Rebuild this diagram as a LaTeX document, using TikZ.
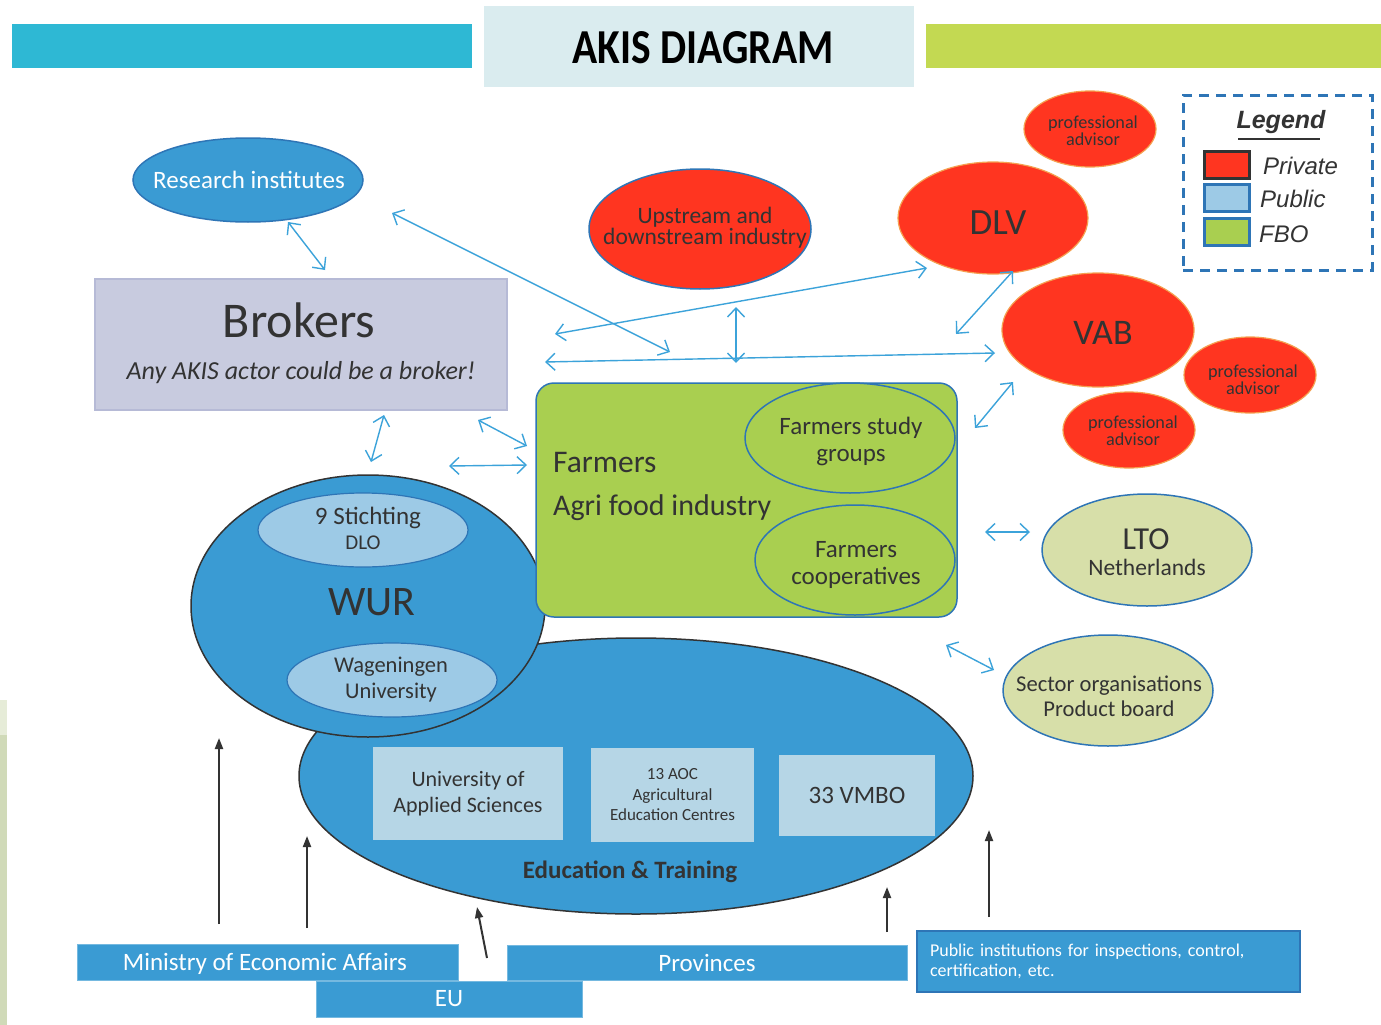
\documentclass[tikz,border=0pt]{standalone}
\usepackage{graphicx}
\usepackage{fontspec}
\setmainfont{Carlito}
\newfontfamily\arialfont{Liberation Sans}
\usetikzlibrary{shapes.geometric,arrows.meta}
\definecolor{cyanbar}{HTML}{2EB8D4}
\definecolor{greenbar}{HTML}{C3D952}
\definecolor{titlebg}{HTML}{DAECEF}
\definecolor{mblue}{HTML}{3A9BD3}
\definecolor{bblue}{HTML}{2E75B6}
\definecolor{lblue}{HTML}{9DCAE6}
\definecolor{eduboxc}{HTML}{B6D6E6}
\definecolor{pred}{HTML}{FF3520}
\definecolor{predborder}{HTML}{F5A050}
\definecolor{fgreen}{HTML}{A9CF50}
\definecolor{ltofill}{HTML}{D7DFA9}
\definecolor{brokfill}{HTML}{C8CBDF}
\definecolor{brokdraw}{HTML}{B6BAD6}
\definecolor{arrblue}{HTML}{3CA3DA}
\definecolor{darktext}{HTML}{333333}
\definecolor{stripc}{HTML}{D0DAB8}
\definecolor{stripl}{HTML}{E6ECD8}
\newcommand\fsz[2]{\fontsize{#1}{#2}\selectfont}
\begin{document}
\begin{tikzpicture}[x=1pt,y=-1pt,
  ell/.style={ellipse, inner sep=0pt},
  lbl/.style={inner sep=0pt, align=center, text=darktext},
  redell/.style={ell, fill=pred, draw=predborder, line width=1.2pt},
  padv/.style={redell, minimum width=132, minimum height=76},
  padvt/.style={lbl, font=\fsz{18.2}{14.5}},
  barrow/.style={draw=arrblue, line width=1.4pt, {Straight Barb[length=9pt,width=17pt]}-{Straight Barb[length=9pt,width=17pt]}},
  karrow/.style={draw=darktext, line width=2pt, -{Triangle[length=11pt,width=8pt]}},
  botbox/.style={fill=mblue, draw=mblue!70!white, line width=0.8pt, inner sep=0pt, text=white, font=\fsz{25}{29}},
  edubox/.style={fill=eduboxc, inner sep=0pt, align=center, text=darktext},
  legbox/.style={minimum width=45, minimum height=27, inner sep=0pt, line width=3pt},
  legtext/.style={anchor=west, inner sep=0pt, font=\arialfont\itshape\fsz{24}{28}, text=darktext}
]
\useasboundingbox (0,0) rectangle (1381,1025);
\fill[white] (0,0) rectangle (1381,1025);
% left edge strip
\fill[stripl] (0,700) rectangle (7,735);
\fill[stripc] (0,735) rectangle (7,1025);

% header
\node[fill=cyanbar, minimum width=460, minimum height=44, inner sep=0pt] (leftbar) at (242,46) {};
\node[fill=greenbar, minimum width=455, minimum height=44, inner sep=0pt] (rightbar) at (1153.5,46) {};
\node[fill=titlebg, minimum width=430, minimum height=81, inner sep=0pt] (titlebox) at (699,46.5) {};
\node[inner sep=0pt, anchor=base] (title) at (703,64) {\resizebox{261pt}{32pt}{\bfseries AKIS DIAGRAM}};

% Research institutes
\node[ell, fill=mblue, draw=bblue, line width=1.5pt, minimum width=230, minimum height=84] (research) at (248,180) {};
\node[lbl, text=white, font=\fsz{25}{28}] (researcht) at (249,180) {Research institutes};

% Brokers
\node[fill=brokfill, draw=brokdraw, line width=1.5pt, minimum width=412, minimum height=131, inner sep=0pt] (brokers) at (301,344.5) {};
\node[lbl, font=\fsz{50}{54}] (brokerstitle) at (299,320) {Brokers};
\node[lbl, font=\itshape\fsz{26}{30}] (brokerssub) at (301,373) {Any AKIS actor could be a broker!};

% Red actors
\node[redell, draw=bblue, line width=1.5pt, minimum width=222, minimum height=120] (upstream) at (700,229) {};
\node[lbl, font=\fsz{23.5}{21}] (upstreamt) at (705,228) {Upstream and\\downstream industry};
\node[padv] (padvtop) at (1090,129) {};
\node[padvt] (padvtopt) at (1093,131) {professional\\advisor};
\node[redell, minimum width=190, minimum height=112] (dlv) at (993,218) {};
\node[lbl, font=\fsz{37}{40}] (dlvt) at (998,223) {DLV};
\node[redell, minimum width=192, minimum height=114] (vab) at (1098,330) {};
\node[lbl, font=\fsz{36}{40}] (vabt) at (1103,333) {VAB};
\node[padv] (padvright) at (1250,375) {};
\node[padvt] (padvrightt) at (1253,380) {professional\\advisor};
\node[padv] (padvlow) at (1129,430) {};
\node[padvt] (padvlowt) at (1133,431) {professional\\advisor};

% Legend
\node[draw=bblue, dashed, dash pattern=on 10pt off 7pt, line width=3pt, minimum width=189, minimum height=175, inner sep=0pt] (legend) at (1277.5,182.5) {};
\node[lbl, font=\arialfont\bfseries\itshape\fsz{25}{28}] (legendtitle) at (1281,122) {Legend};
\coordinate (ulA) at (1238,139);
\coordinate (ulB) at (1320,139);
\draw[darktext, line width=2pt] (ulA) -- (ulB);
\node[legbox, fill=pred, draw=darktext] (legpriv) at (1226.5,164.5) {};
\node[legbox, fill=lblue, draw=bblue] (legpub) at (1226.5,198) {};
\node[legbox, fill=fgreen, draw=bblue] (legfbo) at (1226.5,232) {};
\node[legtext] (legprivt) at (1263,166) {Private};
\node[legtext] (legpubt) at (1260,199) {Public};
\node[legtext] (legfbot) at (1259,234) {FBO};

% Education & Training
\node[ell, fill=mblue, draw=darktext, line width=1.5pt, minimum width=674, minimum height=276] (edu) at (636,776) {};
\node[edubox, minimum width=190, minimum height=93, font=\fsz{22}{26}] (uas) at (468,793.5) {University of\\Applied Sciences};
\node[edubox, minimum width=163, minimum height=94, font=\fsz{17}{20.5}] (aoc) at (672.5,795) {13 AOC\\Agricultural\\Education Centres};
\node[edubox, minimum width=156, minimum height=81, font=\fsz{25}{28}] (vmbo) at (857,795.5) {33 VMBO};
\node[lbl, font=\bfseries\fsz{25}{28}] (edutext) at (630,872) {Education \& Training};

% WUR
\node[ell, fill=mblue, draw=darktext, line width=1.5pt, minimum width=354, minimum height=262] (wur) at (368,606) {};
\node[ell, fill=lblue, draw=bblue, line width=1.2pt, minimum width=210, minimum height=74] (dlo) at (363,530) {};
\node[lbl, font=\fsz{25}{27}] (dlot1) at (368,518) {9 Stichting};
\node[lbl, font=\fsz{21}{23}] (dlot2) at (363,543) {DLO};
\node[lbl, font=\fsz{42}{45}] (wurtext) at (372,602) {WUR};
\node[ell, fill=lblue, draw=bblue, line width=1.2pt, minimum width=210, minimum height=74] (wagu) at (392,680) {};
\node[lbl, font=\fsz{22.5}{26}] (wagut) at (391,680) {Wageningen\\University};

% Farmers
\node[fill=fgreen, draw=bblue, line width=1.5pt, rounded corners=18pt, minimum width=421, minimum height=234, inner sep=0pt] (farmers) at (746.5,500) {};
\node[lbl, anchor=west, font=\fsz{31.5}{34}] (farmerst) at (553,463) {Farmers};
\node[lbl, anchor=west, font=\fsz{30}{34}] (agrit) at (553,508) {Agri food industry};
\node[ell, draw=bblue, line width=1.5pt, minimum width=210, minimum height=110] (study) at (850,438) {};
\node[lbl, font=\fsz{25}{27}] (studyt) at (851,441) {Farmers study\\groups};
\node[ell, draw=bblue, line width=1.5pt, minimum width=200, minimum height=110] (coop) at (855,560) {};
\node[lbl, font=\fsz{25}{27}] (coopt) at (856,565) {Farmers\\cooperatives};

% FBO others
\node[ell, fill=ltofill, draw=bblue, line width=1.5pt, minimum width=210, minimum height=112] (lto) at (1147,550) {};
\node[lbl, font=\fsz{32}{34}] (ltot) at (1146,539) {LTO};
\node[lbl, font=\fsz{23.5}{26}] (ltont) at (1147,567) {Netherlands};
\node[ell, fill=ltofill, draw=bblue, line width=1.5pt, minimum width=210, minimum height=111] (sector) at (1108,690.5) {};
\node[lbl, font=\fsz{22.6}{25}] (sectort) at (1109,696) {Sector organisations\\Product board};

% bottom boxes
\node[botbox, minimum width=381, minimum height=36] (ministry) at (267.5,962) {};
\node[lbl, text=white, font=\fsz{25}{29}] (ministryt) at (265,964) {Ministry of Economic Affairs};
\node[botbox, minimum width=266, minimum height=36] (eu) at (449,999) {EU};
\node[botbox, minimum width=400, minimum height=35] (provinces) at (707,962.5) {Provinces};
\node[botbox, draw=bblue, line width=1.5pt, minimum width=383, minimum height=57, inner sep=13pt, text width=357pt, align=left, font=\fsz{18}{20}] (pubinst) at (1108.5,961.5) {Public institutions for inspections, control,\\certification, etc.};

% blue double arrows
\coordinate (a1s) at (288,222); \coordinate (a1e) at (325,270);
\coordinate (a2s) at (392,213); \coordinate (a2e) at (670,352);
\coordinate (a3s) at (555,334); \coordinate (a3e) at (927,268);
\coordinate (a4s) at (736,307); \coordinate (a4e) at (736,363);
\coordinate (a5s) at (545,362); \coordinate (a5e) at (995,353);
\coordinate (a6s) at (1013,271); \coordinate (a6e) at (956,334);
\coordinate (a7s) at (1013,382); \coordinate (a7e) at (975,428);
\coordinate (a8s) at (384,415); \coordinate (a8e) at (371,462);
\coordinate (a9s) at (478,420); \coordinate (a9e) at (527,446);
\coordinate (a10s) at (449,466); \coordinate (a10e) at (527,465);
\coordinate (a11s) at (985,532); \coordinate (a11e) at (1030,532);
\coordinate (a12s) at (946,645); \coordinate (a12e) at (994,670);
\foreach \i in {1,...,12} {\draw[barrow] (a\i s) -- (a\i e);}

% black arrows
\coordinate (k1s) at (219,924); \coordinate (k1e) at (219,738);
\coordinate (k2s) at (307,928); \coordinate (k2e) at (307,836);
\coordinate (k3s) at (487,958); \coordinate (k3e) at (477,907);
\coordinate (k4s) at (887,932); \coordinate (k4e) at (887,887);
\coordinate (k5s) at (989,917); \coordinate (k5e) at (989,830);
\foreach \i in {1,...,5} {\draw[karrow] (k\i s) -- (k\i e);}
\end{tikzpicture}
\end{document}
